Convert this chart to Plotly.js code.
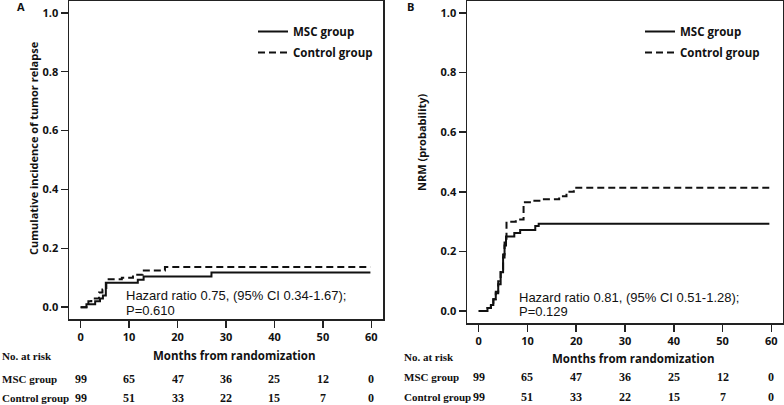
<!DOCTYPE html>
<html>
<head>
<meta charset="utf-8">
<script src="https://cdn.plot.ly/plotly-3.0.1.min.js"></script>
<style>
  html, body { margin: 0; padding: 0; background: #fff; }
  #plot { width: 784px; height: 405px; }
</style>
</head>
<body>
<div id="plot"></div>
<script>
// --- Data ---
// Panel A: cumulative incidence of tumor relapse
const relapseMscT = [0, 1.2, 3.0, 4.0, 4.6, 5.2, 11.8, 13.0, 27.0, 59.8];
const relapseMscY = [0, 0.01, 0.02, 0.03, 0.04, 0.083, 0.093, 0.104, 0.118, 0.118];
const relapseCtlT = [0, 1.2, 1.6, 2.2, 3.8, 4.5, 5.3, 8.5, 10.8, 12.8, 17.4, 59.8];
const relapseCtlY = [0, 0.01, 0.02, 0.03, 0.05, 0.06, 0.095, 0.10, 0.11, 0.125, 0.137, 0.137];

// Panel B: NRM
const nrmMscT = [0, 1.8, 2.5, 3.0, 3.5, 4.0, 4.5, 5.0, 5.3, 5.6, 7.3, 8.5, 11.6, 12.3, 59.6];
const nrmMscY = [0, 0.01, 0.02, 0.04, 0.06, 0.09, 0.13, 0.18, 0.22, 0.25, 0.262, 0.272, 0.285, 0.293, 0.293];
const nrmCtlT = [0, 1.8, 2.5, 3.0, 3.5, 4.0, 4.5, 5.0, 5.3, 5.7, 7.6, 9.2, 10.5, 13.0, 16.5, 18.0, 19.5, 59.6];
const nrmCtlY = [0, 0.01, 0.02, 0.04, 0.065, 0.10, 0.14, 0.19, 0.23, 0.30, 0.307, 0.365, 0.37, 0.375, 0.385, 0.40, 0.414, 0.414];

// Numbers at risk
const riskTimes = [0, 10, 20, 30, 40, 50, 60];
const riskMsc = [99, 65, 47, 36, 25, 12, 0];
const riskCtl = [99, 51, 33, 22, 15, 7, 0];

const yTicks = [0, 0.2, 0.4, 0.6, 0.8, 1.0];
const xTicks = [0, 10, 20, 30, 40, 50, 60];

// --- Styles ---
const W = 784, H = 405;
const px = v => v / W;
const py = v => (H - v) / H;
const sans = "Open Sans";
const serif = "Liberation Serif";
const solid = { color: "#111", width: 2, shape: "hv" };
const dashed = { color: "#111", width: 2, shape: "hv", dash: "7px,4px" };

const traces = [
  { x: relapseMscT, y: relapseMscY, mode: "lines", line: solid, name: "MSC group",
    xaxis: "x", yaxis: "y", legend: "legend", legendgroup: "a1" },
  { x: relapseCtlT, y: relapseCtlY, mode: "lines", line: dashed, name: "Control group",
    xaxis: "x", yaxis: "y", legend: "legend", legendgroup: "a2" },
  { x: nrmMscT, y: nrmMscY, mode: "lines", line: solid, name: "MSC group",
    xaxis: "x2", yaxis: "y2", legend: "legend2", legendgroup: "b1" },
  { x: nrmCtlT, y: nrmCtlY, mode: "lines", line: dashed, name: "Control group",
    xaxis: "x2", yaxis: "y2", legend: "legend2", legendgroup: "b2" }
];

function xAxis(domain, anchor) {
  return {
    domain: domain, anchor: anchor, range: [-2.4, 62.4],
    tickvals: xTicks, ticks: "outside", ticklen: 7, tickwidth: 1.5, tickcolor: "#222",
    showline: true, mirror: true, linecolor: "#222", linewidth: 1.5,
    showgrid: false, zeroline: false,
    tickfont: { family: sans, size: 11, weight: "bold", color: "#111" }
  };
}
function yAxis(domain, anchor) {
  return {
    domain: domain, anchor: anchor, range: [-0.04, 1.04],
    tickvals: yTicks, tickformat: ".1f", ticks: "outside", ticklen: 7, tickwidth: 1.5, tickcolor: "#222",
    showline: true, mirror: true, linecolor: "#222", linewidth: 1.5,
    showgrid: false, zeroline: false,
    tickfont: { family: sans, size: 11, weight: "bold", color: "#111" }
  };
}

const legendBase = {
  xanchor: "left", yanchor: "top", bgcolor: "rgba(0,0,0,0)", borderwidth: 0,
  traceorder: "grouped", tracegroupgap: 2,
  font: { family: sans, size: 11.5, weight: "bold", color: "#111" }
};

const annotations = [];
function addText(text, x, y, xref, opts) {
  annotations.push(Object.assign({
    text: text, x: x, y: y, xref: xref, yref: "paper", showarrow: false,
    xanchor: "center", yanchor: "middle"
  }, opts));
}

// panel letters
addText("A", px(21), py(6), "paper", { font: { family: sans, size: 11, weight: "bold", color: "#111" } });
addText("B", px(410), py(6), "paper", { font: { family: sans, size: 11, weight: "bold", color: "#111" } });

// y axis titles
addText("Cumulative incidence of tumor relapse", px(33), py(148), "paper",
  { textangle: -90, font: { family: sans, size: 11, weight: "bold", color: "#111" } });
addText("NRM (probability)", px(421), py(142), "paper",
  { textangle: -90, font: { family: sans, size: 11, weight: "bold", color: "#111" } });

// x axis titles
addText("Months from randomization", 31.8, py(355.5), "x", { font: { family: sans, size: 11.5, weight: "bold", color: "#111" } });
addText("Months from randomization", 31.8, py(358), "x2", { font: { family: sans, size: 11.5, weight: "bold", color: "#111" } });

// hazard ratio text, one annotation per line
const hrFont = { family: "Liberation Sans", size: 13, color: "#111" };
addText("Hazard ratio 0.75, (95% CI 0.34-1.67);", 9.0, py(295), "x", { xanchor: "left", font: hrFont });
addText("P=0.610", 9.0, py(310), "x", { xanchor: "left", font: hrFont });
addText("Hazard ratio 0.81, (95% CI 0.51-1.28);", 7.9, py(297), "x2", { xanchor: "left", font: hrFont });
addText("P=0.129", 7.9, py(311), "x2", { xanchor: "left", font: hrFont });

// risk table
const serifFont = { family: serif, size: 12, weight: "bold", color: "#111" };
const labelFont = { family: serif, size: 11, weight: "bold", color: "#111" };
const tables = [
  { xref: "x", left: 0, rows: [356, 379, 398] },
  { xref: "x2", left: 402, rows: [357, 377, 397] }
];
tables.forEach(t => {
  addText("No. at risk", px(t.left), py(t.rows[0]), "paper", { xanchor: "left", font: labelFont });
  addText("MSC group", px(t.left), py(t.rows[1]), "paper", { xanchor: "left", font: labelFont });
  addText("Control group", px(t.left), py(t.rows[2]), "paper", { xanchor: "left", font: labelFont });
  riskTimes.forEach((tm, i) => {
    addText(String(riskMsc[i]), tm, py(t.rows[1]), t.xref, { font: serifFont });
    addText(String(riskCtl[i]), tm, py(t.rows[2]), t.xref, { font: serifFont });
  });
});

const layout = {
  width: W, height: H,
  margin: { l: 0, r: 0, t: 0, b: 0 },
  paper_bgcolor: "#fff", plot_bgcolor: "#fff",
  showlegend: true,
  xaxis: xAxis([px(69), px(383)], "y"),
  yaxis: yAxis([py(319), py(1)], "x"),
  xaxis2: xAxis([px(467), px(783)], "y2"),
  yaxis2: yAxis([py(323), py(1)], "x2"),
  legend: Object.assign({ x: px(253), y: py(17) }, legendBase),
  legend2: Object.assign({ x: px(640), y: py(17) }, legendBase),
  annotations: annotations
};

Plotly.newPlot("plot", traces, layout, { staticPlot: true });
</script>
</body>
</html>
